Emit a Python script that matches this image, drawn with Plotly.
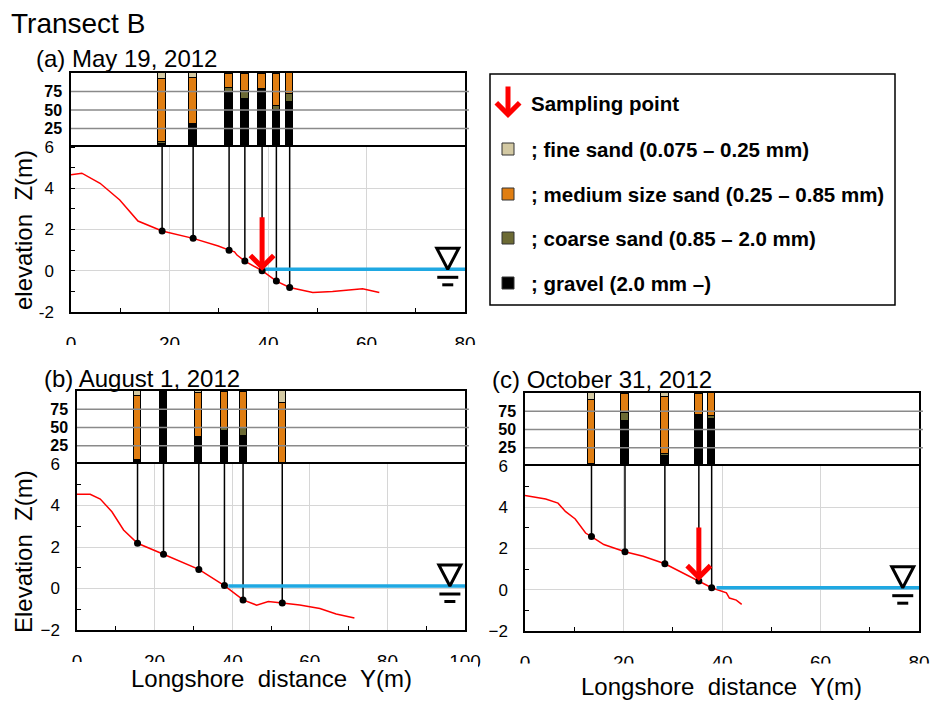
import plotly.graph_objects as go

W, H = 930, 704
FONT = "Liberation Sans, Arial, sans-serif"

# ---------------- data ----------------
# (a) May 19, 2012
A_PROF_Y = [0, 2.2, 5.9, 9.9, 13.6, 18.5, 24.8, 29.9, 32.1, 33.2, 33.7, 35.3, 38.8, 41.7, 44.4, 49.1, 53.1, 59.2, 62.6]
A_PROF_Z = [4.65, 4.73, 4.24, 3.43, 2.41, 1.93, 1.57, 1.2, 1.0, 0.92, 0.76, 0.47, 0.0, -0.5, -0.81, -1.05, -1.0, -0.87, -1.05]
A_SAMP_Y = [18.5, 24.8, 32.1, 35.3, 38.8, 41.7, 44.4]
A_SAMP_Z = [1.93, 1.57, 1.0, 0.47, 0.0, -0.5, -0.81]
A_GRAVEL = [4, 31, 75, 65, 77, 50, 61]
A_COARSE = [3, 0, 5, 11, 1, 6, 10]
A_MEDIUM = [85, 62, 19, 22, 21, 43, 29]
A_FINE = [8, 7, 1, 2, 1, 1, 0]
A_WATER_Y = [39.3, 80]
A_WATER_Z = 0.07
A_ARROW_AT = 4          # index of the sampling point marked by the red arrow

# (b) August 1, 2012
B_PROF_Y = [0, 3.4, 6.0, 9.0, 12.0, 15.6, 22.3, 31.4, 38.0, 42.8, 46.3, 49.3, 52.9, 57.4, 62.6, 66.8, 71.5]
B_PROF_Z = [4.54, 4.54, 4.31, 3.7, 2.82, 2.18, 1.65, 0.92, 0.14, -0.55, -0.8, -0.63, -0.70, -0.8, -0.96, -1.23, -1.42]
B_SAMP_Y = [15.6, 22.3, 31.4, 38.0, 42.8, 52.9]
B_SAMP_Z = [2.18, 1.65, 0.92, 0.14, -0.55, -0.70]
B_GRAVEL = [4, 100, 37, 45, 39, 1]
B_COARSE = [1, 0, 0, 5, 10, 0]
B_MEDIUM = [88, 0, 60, 48, 50, 83]
B_FINE = [7, 0, 3, 2, 1, 16]
B_WATER_Y = [39.0, 100]
B_WATER_Z = 0.12
B_ARROW_AT = None

# (c) October 31, 2012
C_PROF_Y = [0, 4.2, 6.7, 8.2, 10.2, 12.3, 13.5, 16.0, 20.3, 24.0, 28.4, 32.8, 35.3, 37.9, 40.9, 41.5, 42.9, 44.0]
C_PROF_Z = [4.57, 4.4, 4.2, 3.8, 3.43, 2.75, 2.58, 2.19, 1.84, 1.62, 1.26, 0.74, 0.43, 0.1, -0.15, -0.4, -0.5, -0.71]
C_SAMP_Y = [13.5, 20.3, 28.4, 35.3, 37.9]
C_SAMP_Z = [2.58, 1.84, 1.26, 0.43, 0.1]
C_GRAVEL = [3, 61, 14, 70, 65]
C_COARSE = [0, 12, 3, 0, 4]
C_MEDIUM = [88, 25, 77, 29, 31]
C_FINE = [9, 2, 6, 1, 0]
C_WATER_Y = [38.9, 80]
C_WATER_Z = 0.1
C_ARROW_AT = 3

Z_RANGE = [-2, 6]
STRIP_RANGE = [0, 100]
STRIP_TICKS = [25, 50, 75]

TITLE = "Transect B"
PANEL_TITLES = ["(a) May 19, 2012", "(b) August 1, 2012", "(c) October 31, 2012"]
LEGEND_ARROW_LABEL = "Sampling point"
LEGEND_LABELS = ["; fine sand (0.075 \u2013 0.25 mm)",
                 "; medium size sand (0.25 \u2013 0.85 mm)",
                 "; coarse sand (0.85 \u2013 2.0 mm)",
                 "; gravel (2.0 mm \u2013)"]

# ---------------- styles ----------------
COL_FINE = "#d3c9a3"
COL_MEDIUM = "#e07e12"
COL_COARSE = "#6c6a34"
COL_GRAVEL = "#000000"
COL_PROFILE = "#ff0000"
COL_WATER = "#1fa8e2"
COL_GRID = "#d6d6d6"
COL_STRIPGRID = "#8a8a8a"


def fx(p):
    return p / W


def fy(p):
    return 1 - p / H


PANELS = [
    dict(prof=(A_PROF_Y, A_PROF_Z), samp=(A_SAMP_Y, A_SAMP_Z),
         comp=(A_GRAVEL, A_COARSE, A_MEDIUM, A_FINE), water=(A_WATER_Y, A_WATER_Z),
         arrow=A_ARROW_AT, xr=[0, 80], box=(71, 465, 73, 147, 312), bar_w=1.5, sym=76.5,
         hyphen=True),
    dict(prof=(B_PROF_Y, B_PROF_Z), samp=(B_SAMP_Y, B_SAMP_Z),
         comp=(B_GRAVEL, B_COARSE, B_MEDIUM, B_FINE), water=(B_WATER_Y, B_WATER_Z),
         arrow=B_ARROW_AT, xr=[0, 100], box=(77, 465, 391, 464, 630), bar_w=1.8, sym=96.1,
         hyphen=False),
    dict(prof=(C_PROF_Y, C_PROF_Z), samp=(C_SAMP_Y, C_SAMP_Z),
         comp=(C_GRAVEL, C_COARSE, C_MEDIUM, C_FINE), water=(C_WATER_Y, C_WATER_Z),
         arrow=C_ARROW_AT, xr=[0, 80], box=(525, 919, 393, 466, 631), bar_w=1.5, sym=76.7,
         hyphen=False),
]

fig = go.Figure()
layout = {}
shapes = []
annotations = []

for i, p in enumerate(PANELS):
    sa = 2 * i + 1      # strip axes number
    ea = 2 * i + 2      # elevation axes number
    sxn = "x" if sa == 1 else f"x{sa}"
    syn = "y" if sa == 1 else f"y{sa}"
    exn, eyn = f"x{ea}", f"y{ea}"
    left, right, top, mid, bottom = p["box"]
    xr = p["xr"]

    # --- stacked grain-size bars
    for vals, col in zip(p["comp"], [COL_GRAVEL, COL_COARSE, COL_MEDIUM, COL_FINE]):
        fig.add_trace(go.Bar(x=p["samp"][0], y=vals, width=p["bar_w"], marker=dict(color=col, line=dict(color="black", width=1)),
                             xaxis=sxn, yaxis=syn, showlegend=False))

    # --- profile
    fig.add_trace(go.Scatter(x=p["prof"][0], y=p["prof"][1], mode="lines", line=dict(color=COL_PROFILE, width=1.5),
                             xaxis=exn, yaxis=eyn, showlegend=False))
    # --- vertical connectors to the bar strip
    vx, vz = [], []
    for yy, zz in zip(*p["samp"]):
        vx += [yy, yy, None]
        vz += [zz, Z_RANGE[1], None]
    fig.add_trace(go.Scatter(x=vx, y=vz, mode="lines", line=dict(color="black", width=1.5),
                             xaxis=exn, yaxis=eyn, showlegend=False, cliponaxis=False))
    # --- water level
    wy, wz = p["water"]
    fig.add_trace(go.Scatter(x=wy, y=[wz, wz], mode="lines", line=dict(color=COL_WATER, width=3.5),
                             xaxis=exn, yaxis=eyn, showlegend=False))
    # --- sampling points
    fig.add_trace(go.Scatter(x=p["samp"][0], y=p["samp"][1], mode="markers", marker=dict(color="black", size=7),
                             xaxis=exn, yaxis=eyn, showlegend=False))

    # --- water-level symbol (sizes in px converted to data units)
    sx = (right - left) / (xr[1] - xr[0])
    sz = (bottom - mid) / (Z_RANGE[1] - Z_RANGE[0])
    c = p["sym"]
    hw, th = 11 / sx, 21 / sz
    fig.add_trace(go.Scatter(x=[c - hw, c + hw, c, c - hw, c + hw], y=[wz + th, wz + th, wz, wz + th, wz + th],
                             mode="lines", line=dict(color="black", width=3), xaxis=exn, yaxis=eyn, showlegend=False))
    d1, d2 = 8 / sz, 15.5 / sz
    fig.add_trace(go.Scatter(x=[c - 10.5 / sx, c + 10.5 / sx, None, c - 5.5 / sx, c + 5.5 / sx],
                             y=[wz - d1, wz - d1, None, wz - d2, wz - d2],
                             mode="lines", line=dict(color="black", width=3), xaxis=exn, yaxis=eyn, showlegend=False))

    # --- axes
    dom_x = [fx(left), fx(right)]
    layout[sxn.replace("x", "xaxis")] = dict(domain=dom_x, range=xr, anchor=syn, side="top", showticklabels=False,
                                             showgrid=False, zeroline=False, showline=True, mirror=False,
                                             linecolor="black", linewidth=1.5, ticks="", automargin=False)
    layout[syn.replace("y", "yaxis")] = dict(domain=[fy(mid), fy(top)], range=STRIP_RANGE, anchor=sxn, tickmode="array",
                                             tickvals=STRIP_TICKS, showgrid=False, zeroline=False, showline=True,
                                             mirror=True, linecolor="black", linewidth=1.5, ticks="",
                                             tickfont=dict(size=16, family=FONT, color="black", weight="bold"),
                                             ticklabelstandoff=4, automargin=False)
    layout[f"xaxis{ea}"] = dict(domain=dom_x, range=xr, anchor=eyn, tick0=0, dtick=20, showgrid=True, gridcolor=COL_GRID,
                                gridwidth=1, zeroline=False, showline=True, mirror=True, linecolor="black",
                                linewidth=1.5, ticks="", automargin=False,
                                minor=dict(dtick=10, tick0=0, ticks="inside", ticklen=4, tickcolor="black", showgrid=False),
                                tickfont=dict(size=19, family=FONT, color="black"), ticklabelstandoff=13)
    yax = dict(domain=[fy(bottom), fy(mid)], range=Z_RANGE, anchor=exn, tick0=-2, dtick=2, showgrid=True,
               gridcolor=COL_GRID, gridwidth=1, zeroline=False, showline=True, mirror=True, linecolor="black",
               linewidth=1.5, ticks="", automargin=False,
               minor=dict(dtick=1, tick0=-2, ticks="inside", ticklen=4, tickcolor="black", showgrid=False),
               tickfont=dict(size=17, family=FONT, color="black"), ticklabelstandoff=12)
    if p["hyphen"]:
        tv = list(range(Z_RANGE[0], Z_RANGE[1] + 1, 2))
        yax.update(tickmode="array", tickvals=tv, ticktext=[str(v) for v in tv])
    layout[f"yaxis{ea}"] = yax

    # strip gridlines drawn above the bars
    for t in STRIP_TICKS:
        shapes.append(dict(type="line", xref=f"{sxn} domain", yref=syn, x0=0, x1=1.01, y0=t, y1=t,
                           line=dict(color=COL_STRIPGRID, width=1.5), layer="above"))

    # red sampling arrow
    if p["arrow"] is not None:
        k = p["arrow"]
        annotations.append(dict(x=p["samp"][0][k], y=p["samp"][1][k], xref=exn, yref=eyn, text="", showarrow=True,
                                ax=0, ay=-55, arrowhead=4, arrowsize=0.9, arrowwidth=5, arrowcolor="#ff0000",
                                standoff=0))

# cover the lower half of the x tick labels as in the original
for x0, x1, y0, y1 in [(40, 480, 345, 360), (60, 478, 662, 668), (480, 930, 663.5, 673)]:
    shapes.append(dict(type="rect", xref="paper", yref="paper", x0=fx(x0), x1=fx(x1), y0=fy(y1), y1=fy(y0),
                       fillcolor="white", line=dict(width=0), layer="above"))

# legend box
shapes.append(dict(type="rect", xref="paper", yref="paper", x0=fx(490), x1=fx(895), y0=fy(305), y1=fy(74),
                   line=dict(color="black", width=1.5), fillcolor="rgba(0,0,0,0)"))
leg_y = [149, 194, 238, 283]
for cy, col in zip(leg_y, [COL_FINE, COL_MEDIUM, COL_COARSE, COL_GRAVEL]):
    shapes.append(dict(type="rect", xref="paper", yref="paper", x0=fx(502), x1=fx(514), y0=fy(cy + 6), y1=fy(cy - 6),
                       fillcolor=col, line=dict(color="#333333", width=1)))
for cy, lab in zip(leg_y, LEGEND_LABELS):
    annotations.append(dict(x=fx(529), y=fy(cy), xref="paper", yref="paper", text=lab, showarrow=False,
                            xanchor="left", yanchor="middle", font=dict(size=20.5, family=FONT, color="black", weight="bold")))
annotations.append(dict(x=fx(529), y=fy(104), xref="paper", yref="paper", text=LEGEND_ARROW_LABEL, showarrow=False,
                        xanchor="left", yanchor="middle", font=dict(size=20.5, family=FONT, color="black", weight="bold")))
annotations.append(dict(x=fx(508), y=fy(118), xref="paper", yref="paper", text="", showarrow=True, ax=0, ay=-33,
                        arrowhead=4, arrowsize=0.9, arrowwidth=5, arrowcolor="#ff0000", standoff=0))

# titles
annotations.append(dict(x=fx(9), y=fy(23.5), xref="paper", yref="paper", text=TITLE, showarrow=False,
                        xanchor="left", yanchor="middle", font=dict(size=28, family=FONT, color="black")))
for (tx, ty), t in zip([(34, 58.5), (42, 378), (490, 379)], PANEL_TITLES):
    annotations.append(dict(x=fx(tx), y=fy(ty), xref="paper", yref="paper", text=t, showarrow=False,
                            xanchor="left", yanchor="middle", font=dict(size=24, family=FONT, color="black")))
# axis titles
for (tx, ty), t in zip([(24, 230), (23, 552)], ["elevation  Z(m)", "Elevation  Z(m)"]):
    annotations.append(dict(x=fx(tx), y=fy(ty), xref="paper", yref="paper", text=t, showarrow=False, textangle=-90,
                            xanchor="center", yanchor="middle", font=dict(size=24, family=FONT, color="black")))
for (tx, ty) in [(271, 678), (721, 686)]:
    annotations.append(dict(x=fx(tx), y=fy(ty), xref="paper", yref="paper", text="Longshore  distance  Y(m)",
                            showarrow=False, xanchor="center", yanchor="middle",
                            font=dict(size=24, family=FONT, color="black")))

fig.update_layout(width=W, height=H, margin=dict(l=0, r=0, t=0, b=0, autoexpand=False), paper_bgcolor="white",
                  plot_bgcolor="white", barmode="stack", bargap=0, showlegend=False, shapes=shapes,
                  annotations=annotations, font=dict(family=FONT, color="black"), **layout)

fig.write_html("out.html")
